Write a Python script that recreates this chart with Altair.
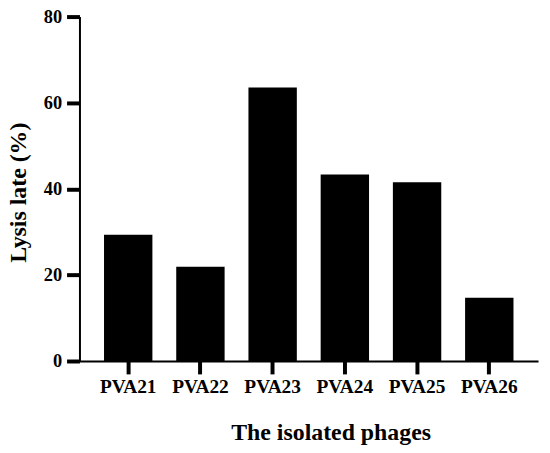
import altair as alt
import pandas as pd

phages = ["PVA21", "PVA22", "PVA23", "PVA24", "PVA25", "PVA26"]
lysis = [29.3, 21.9, 63.5, 43.3, 41.5, 14.7]

df = pd.DataFrame({"phage": phages, "lysis": lysis})

FONT = "Liberation Serif"

chart = alt.Chart(df).mark_bar(color="black").encode(
    x=alt.X(
        "phage:N",
        sort=phages,
        scale=alt.Scale(paddingInner=0.33, paddingOuter=0.34),
        axis=alt.Axis(
            title="The isolated phages",
            titleFont=FONT, titleFontSize=24, titleFontWeight="bold", titleColor="black",
            titleX=253, titleY=79, titleAlign="center", titleBaseline="alphabetic",
            labelFont=FONT, labelFontSize=19.5, labelFontWeight="bold", labelColor="black",
            labelAngle=0, labelPadding=4,
            ticks=True,
            domainColor="black", domainWidth=2, tickColor="black", tickWidth=4, tickSize=13,
        ),
    ),
    y=alt.Y(
        "lysis:Q",
        scale=alt.Scale(domain=[0, 80], nice=False),
        axis=alt.Axis(
            title="Lysis late (%)",
            values=[0, 20, 40, 60, 80],
            titleFont=FONT, titleFontSize=24, titleFontWeight="bold", titleColor="black",
            titleX=-54, titleY=177, titleAngle=270, titleAlign="center", titleBaseline="alphabetic",
            labelFont=FONT, labelFontSize=18.5, labelFontWeight="bold", labelColor="black",
            labelPadding=5,
            ticks=True,
            domainColor="black", domainWidth=2, tickColor="black", tickWidth=4, tickSize=13,
            grid=False,
        ),
    ),
).properties(
    width=462,
    height=347,
    autosize=alt.AutoSizeParams(type="none"),
    padding={"left": 72, "top": 7, "right": 4, "bottom": 85},
    background="white",
).configure_view(stroke=None)

chart.save("out.html", embed_options={"renderer": "svg", "actions": False})
